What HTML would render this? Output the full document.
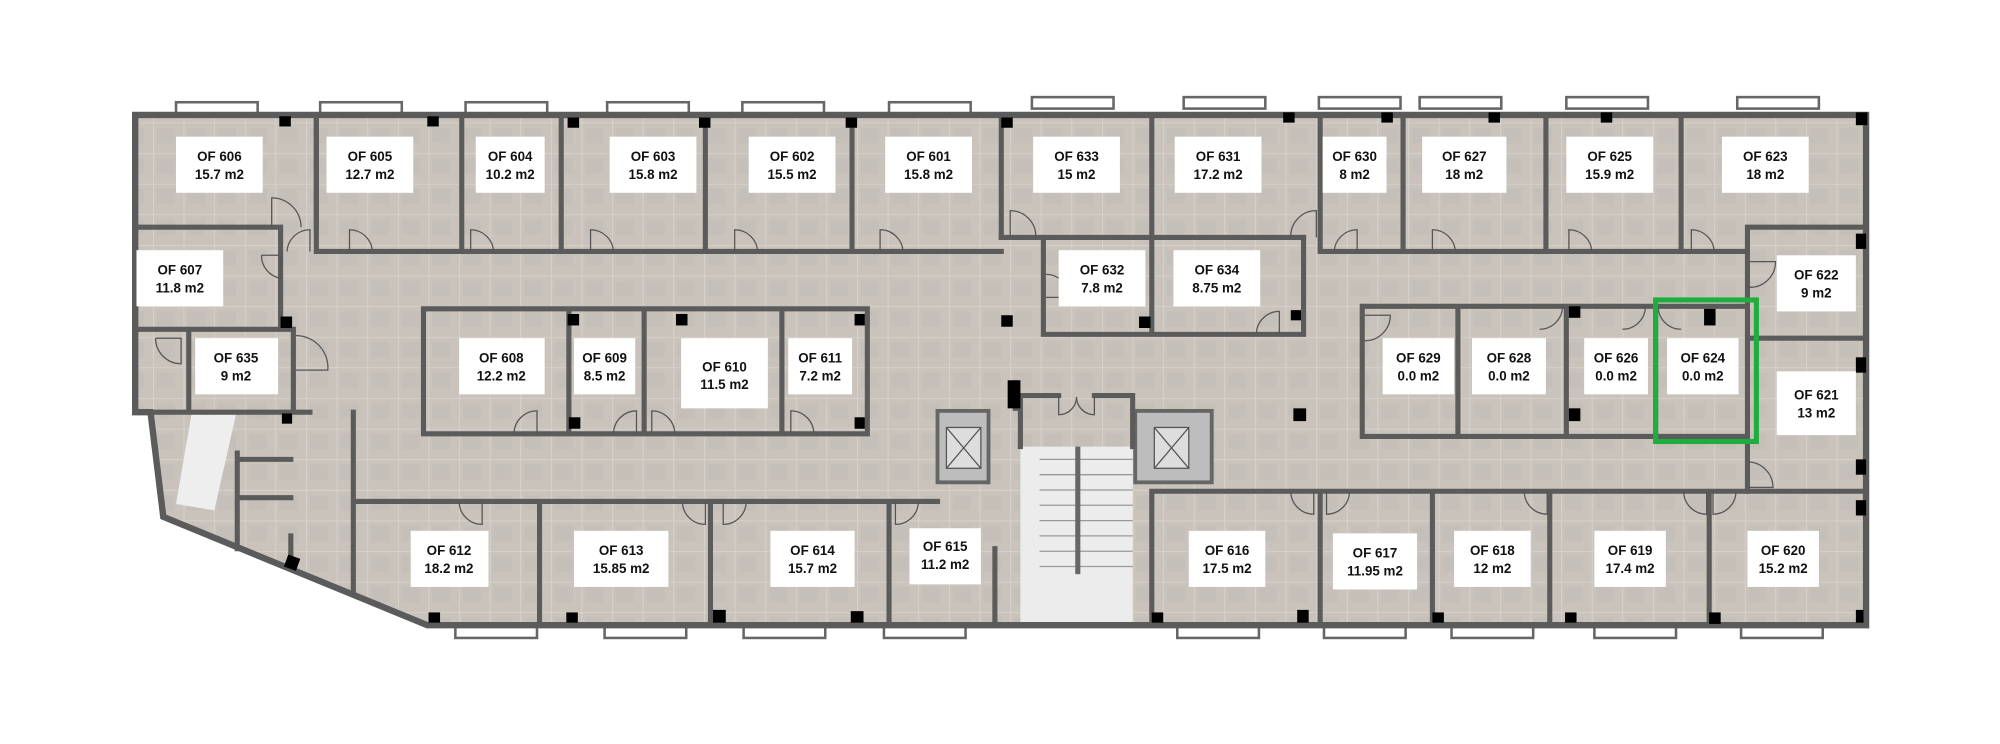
<!DOCTYPE html>
<html><head><meta charset="utf-8"><style>
html,body{margin:0;padding:0;background:#fff;width:2000px;height:744px;overflow:hidden}
svg{display:block}
text{font-family:"Liberation Sans",sans-serif;font-weight:bold;font-size:10.5px;fill:#111;text-anchor:middle}
</style></head><body>
<svg width="2000" height="744" viewBox="0 0 1568 583" xmlns="http://www.w3.org/2000/svg">
<defs>
<pattern id="t" width="24" height="24" patternUnits="userSpaceOnUse">
<rect width="24" height="24" fill="#c9c3bc"/>
<rect x="3" y="4" width="14" height="12" fill="#c2bcb5" opacity=".6"/>
<path d="M0 0H24M0 0V24" stroke="#dcd8d3" stroke-width="1"/>
</pattern>
</defs>
<path d="M106 90 H1463 V490 H335 L128 405 L118 323 H106 Z" fill="url(#t)"/>
<path d="M150 325 L185 325 L168 400 L138 395 Z" fill="#eeeeee"/>
<rect x="800" y="350" width="88" height="138" fill="#ececec"/>
<g stroke="#999" stroke-width="1">
<line x1="815" y1="360" x2="888" y2="360"/><line x1="815" y1="372" x2="888" y2="372"/><line x1="815" y1="384" x2="888" y2="384"/><line x1="815" y1="396" x2="888" y2="396"/><line x1="815" y1="408" x2="888" y2="408"/><line x1="815" y1="420" x2="888" y2="420"/><line x1="815" y1="432" x2="888" y2="432"/><line x1="815" y1="444" x2="888" y2="444"/>
</g>
<rect x="843" y="350" width="4" height="100" fill="#666"/>
<rect x="735" y="322" width="40" height="56" fill="#bdbdbd" stroke="#666" stroke-width="3"/>
<rect x="742" y="335" width="27" height="32" fill="#ddd" stroke="#555"/><path d="M742 335 L769 367 M769 335 L742 367" stroke="#555"/>
<rect x="890" y="322" width="60" height="56" fill="#bdbdbd" stroke="#666" stroke-width="3"/>
<rect x="905" y="335" width="27" height="32" fill="#ddd" stroke="#555"/><path d="M905 335 L932 367 M932 335 L905 367" stroke="#555"/>
<g fill="#fff" stroke="#666" stroke-width="2">
<rect x="138" y="80" width="64" height="9"/><rect x="251" y="80" width="64" height="9"/><rect x="365" y="80" width="64" height="9"/><rect x="476" y="80" width="64" height="9"/><rect x="582" y="80" width="64" height="9"/><rect x="697" y="80" width="64" height="9"/>
<rect x="809" y="76" width="64" height="9"/><rect x="928" y="76" width="64" height="9"/><rect x="1034" y="76" width="64" height="9"/><rect x="1113" y="76" width="64" height="9"/><rect x="1228" y="76" width="64" height="9"/><rect x="1362" y="76" width="64" height="9"/>
<rect x="357" y="491" width="64" height="9"/><rect x="474" y="491" width="64" height="9"/><rect x="583" y="491" width="64" height="9"/><rect x="693" y="491" width="64" height="9"/>
<rect x="923" y="491" width="64" height="9"/><rect x="1038" y="491" width="64" height="9"/><rect x="1138" y="491" width="64" height="9"/><rect x="1250" y="491" width="64" height="9"/><rect x="1365" y="491" width="64" height="9"/>
</g>
<g stroke="#5b5b5b" stroke-width="4" fill="none" stroke-linecap="square">
<path d="M106 90 H1463 V490 H335 L128 405 L118 323 H106 Z" stroke-width="5"/>
<path d="M220 178 H106 M248 90 V178 M220 178 V258 M106 258 H230 M148 260 V323 M230 260 V323 M106 323 H243"/>
<path d="M248 197 H785 M248 90 V197 M362 90 V197 M440 90 V197 M553 90 V197 M668 90 V197 M785 90 V186"/>
<path d="M785 186 H1022 M903 90 V186 M1035 90 V197 H1370 M1100 90 V197 M1212 90 V197 M1318 90 V197 M1370 178 V385 M1370 178 H1463 M1370 265 H1463"/>
<path d="M818 186 V262 H1022 V186 M903 186 V262"/>
<path d="M332 242 H680 V340 H332 Z M446 242 V340 M505 242 V340 M613 242 V340"/>
<path d="M1068 240 H1370 M1068 240 V342 H1370 M1143 240 V342 M1228 240 V342 M1298 240 V342"/>
<path d="M277 323 V465 M277 393 H735 M423 393 V488 M557 393 V488 M697 393 V488 M780 430 V488"/>
<path d="M903 385 H1463 M903 385 V488 M1035 385 V488 M1123 385 V488 M1215 385 V488 M1340 385 V488"/>
<path d="M186 355 V430 M186 360 H228 M186 390 H228 M228 420 V435"/>
<path d="M800 350 V310 H830 M858 310 H888 V350 M796 300 V320"/>
</g>
<g stroke="#555" stroke-width="1" fill="none">
<path d="M213 178 V155 A23 23 0 0 1 236 178"/><path d="M225 197 A18 18 0 0 1 243 180 V197"/><path d="M274 197 V180 A18 18 0 0 1 292 197"/><path d="M369 197 V180 A18 18 0 0 1 387 197"/><path d="M463 197 V180 A18 18 0 0 1 481 197"/><path d="M576 197 V180 A18 18 0 0 1 594 197"/><path d="M690 197 V180 A18 18 0 0 1 708 197"/><path d="M792 186 V165 A20 20 0 0 1 812 186"/><path d="M1012 186 A20 20 0 0 1 1032 165 V186"/>
<path d="M1046 197 A18 18 0 0 1 1064 180 V197"/><path d="M1123 197 V180 A18 18 0 0 1 1141 197"/><path d="M1230 197 V180 A18 18 0 0 1 1248 197"/><path d="M1326 197 V180 A18 18 0 0 1 1344 197"/>
<path d="M820 215 A18 18 0 0 1 838 233 H820"/><path d="M985 262 A18 18 0 0 1 1003 244 V262"/>
<path d="M1370 205 H1392 A20 20 0 0 1 1370 225"/><path d="M1370 362 A20 20 0 0 1 1390 382 H1370"/>
<path d="M1070 247 H1090 A20 20 0 0 1 1070 267"/><path d="M1225 240 A18 18 0 0 1 1207 258"/><path d="M1290 240 A18 18 0 0 1 1272 258"/><path d="M1300 240 A18 18 0 0 0 1318 258"/>
<path d="M205 200 H220 V218 A18 18 0 0 1 205 200"/><path d="M232 263 A25 25 0 0 1 257 290 H232"/><path d="M122 265 H142 V285 A20 20 0 0 1 122 265"/>
<path d="M403 340 A18 18 0 0 1 421 322 V340"/><path d="M481 340 A18 18 0 0 1 499 322 V340"/><path d="M511 340 V322 A18 18 0 0 1 529 340"/><path d="M620 340 V322 A18 18 0 0 1 638 340"/>
<path d="M360 393 A18 18 0 0 0 378 411 V393"/><path d="M535 393 A18 18 0 0 0 553 411 V393"/><path d="M567 393 V411 A18 18 0 0 0 585 393"/><path d="M702 393 V411 A18 18 0 0 0 720 393"/>
<path d="M1012 385 A18 18 0 0 0 1030 403 V385"/><path d="M1040 385 V403 A18 18 0 0 0 1058 385"/><path d="M1195 385 A18 18 0 0 0 1213 403 V385"/><path d="M1320 385 A18 18 0 0 0 1338 403 V385"/><path d="M1343 385 V403 A18 18 0 0 0 1361 385"/>
<path d="M830 310 V325 A14 14 0 0 0 844 311 M858 310 V325 A14 14 0 0 1 844 311"/>
</g>
<g fill="#000">
<rect x="219" y="91" width="9" height="8"/><rect x="335" y="91" width="9" height="8"/><rect x="445" y="92" width="9" height="8"/><rect x="548" y="92" width="9" height="8"/><rect x="663" y="92" width="9" height="8"/><rect x="785" y="92" width="9" height="8"/>
<rect x="1006" y="88" width="9" height="8"/><rect x="1083" y="88" width="9" height="8"/><rect x="1167" y="88" width="9" height="8"/><rect x="1255" y="88" width="9" height="8"/><rect x="1455" y="88" width="9" height="10"/>
<rect x="220" y="248" width="9" height="9"/><rect x="893" y="248" width="9" height="9"/><rect x="1012" y="243" width="8" height="8"/><rect x="785" y="247" width="9" height="9"/><rect x="1455" y="183" width="8" height="12"/><rect x="1455" y="280" width="8" height="12"/>
<rect x="445" y="246" width="9" height="9"/><rect x="530" y="246" width="9" height="9"/><rect x="670" y="246" width="8" height="9"/><rect x="446" y="327" width="9" height="9"/><rect x="670" y="327" width="8" height="9"/>
<rect x="790" y="298" width="10" height="22"/><rect x="1014" y="320" width="10" height="10"/><rect x="1230" y="240" width="9" height="9"/><rect x="1230" y="320" width="9" height="10"/><rect x="1336" y="242" width="9" height="13"/><rect x="1455" y="360" width="8" height="12"/><rect x="1455" y="392" width="8" height="12"/>
<rect x="221" y="324" width="8" height="8"/><rect x="224" y="436" width="10" height="10" transform="rotate(20 229 441)"/>
<rect x="336" y="480" width="9" height="8"/><rect x="444" y="480" width="9" height="8"/><rect x="559" y="478" width="10" height="10"/><rect x="667" y="479" width="10" height="9"/>
<rect x="903" y="480" width="9" height="8"/><rect x="1017" y="478" width="9" height="10"/><rect x="1123" y="480" width="9" height="8"/><rect x="1227" y="480" width="9" height="8"/><rect x="1340" y="480" width="9" height="9"/><rect x="1455" y="478" width="6" height="10"/>
</g>
<rect x="1298" y="235" width="79" height="111" fill="none" stroke="#1fae3e" stroke-width="4"/>
<g fill="#fff">
<rect x="138" y="107" width="68" height="44"/><rect x="256" y="107" width="68" height="44"/><rect x="373" y="107" width="54" height="44"/><rect x="478" y="107" width="68" height="44"/><rect x="587" y="107" width="68" height="44"/><rect x="694" y="107" width="68" height="44"/>
<rect x="810" y="107" width="68" height="44"/><rect x="921" y="107" width="68" height="44"/><rect x="1037" y="107" width="50" height="44"/><rect x="1115" y="107" width="66" height="44"/><rect x="1228" y="107" width="68" height="44"/><rect x="1350" y="107" width="68" height="44"/>
<rect x="107" y="196" width="68" height="44"/><rect x="830" y="196" width="68" height="44"/><rect x="920" y="196" width="68" height="44"/><rect x="1393" y="200" width="62" height="44"/>
<rect x="153" y="265" width="65" height="44"/><rect x="360" y="265" width="67" height="44"/><rect x="450" y="265" width="48" height="44"/><rect x="534" y="265" width="68" height="55"/><rect x="618" y="265" width="50" height="44"/>
<rect x="1084" y="265" width="56" height="44"/><rect x="1154" y="265" width="58" height="44"/><rect x="1242" y="265" width="50" height="44"/><rect x="1307" y="265" width="56" height="44"/><rect x="1393" y="291" width="62" height="50"/>
<rect x="322" y="416" width="61" height="44"/><rect x="450" y="416" width="74" height="44"/><rect x="604" y="416" width="66" height="44"/><rect x="713" y="414" width="56" height="44"/>
<rect x="932" y="416" width="60" height="44"/><rect x="1045" y="418" width="66" height="44"/><rect x="1140" y="416" width="60" height="44"/><rect x="1250" y="416" width="56" height="44"/><rect x="1370" y="416" width="56" height="44"/>
</g>
<g>
<text x="172" y="126">OF 606</text><text x="172" y="140">15.7 m2</text>
<text x="290" y="126">OF 605</text><text x="290" y="140">12.7 m2</text>
<text x="400" y="126">OF 604</text><text x="400" y="140">10.2 m2</text>
<text x="512" y="126">OF 603</text><text x="512" y="140">15.8 m2</text>
<text x="621" y="126">OF 602</text><text x="621" y="140">15.5 m2</text>
<text x="728" y="126">OF 601</text><text x="728" y="140">15.8 m2</text>
<text x="844" y="126">OF 633</text><text x="844" y="140">15 m2</text>
<text x="955" y="126">OF 631</text><text x="955" y="140">17.2 m2</text>
<text x="1062" y="126">OF 630</text><text x="1062" y="140">8 m2</text>
<text x="1148" y="126">OF 627</text><text x="1148" y="140">18 m2</text>
<text x="1262" y="126">OF 625</text><text x="1262" y="140">15.9 m2</text>
<text x="1384" y="126">OF 623</text><text x="1384" y="140">18 m2</text>
<text x="141" y="215">OF 607</text><text x="141" y="229">11.8 m2</text>
<text x="864" y="215">OF 632</text><text x="864" y="229">7.8 m2</text>
<text x="954" y="215">OF 634</text><text x="954" y="229">8.75 m2</text>
<text x="1424" y="219">OF 622</text><text x="1424" y="233">9 m2</text>
<text x="185" y="284">OF 635</text><text x="185" y="298">9 m2</text>
<text x="393" y="284">OF 608</text><text x="393" y="298">12.2 m2</text>
<text x="474" y="284">OF 609</text><text x="474" y="298">8.5 m2</text>
<text x="568" y="291">OF 610</text><text x="568" y="305">11.5 m2</text>
<text x="643" y="284">OF 611</text><text x="643" y="298">7.2 m2</text>
<text x="1112" y="284">OF 629</text><text x="1112" y="298">0.0 m2</text>
<text x="1183" y="284">OF 628</text><text x="1183" y="298">0.0 m2</text>
<text x="1267" y="284">OF 626</text><text x="1267" y="298">0.0 m2</text>
<text x="1335" y="284">OF 624</text><text x="1335" y="298">0.0 m2</text>
<text x="1424" y="313">OF 621</text><text x="1424" y="327">13 m2</text>
<text x="352" y="435">OF 612</text><text x="352" y="449">18.2 m2</text>
<text x="487" y="435">OF 613</text><text x="487" y="449">15.85 m2</text>
<text x="637" y="435">OF 614</text><text x="637" y="449">15.7 m2</text>
<text x="741" y="432">OF 615</text><text x="741" y="446">11.2 m2</text>
<text x="962" y="435">OF 616</text><text x="962" y="449">17.5 m2</text>
<text x="1078" y="437">OF 617</text><text x="1078" y="451">11.95 m2</text>
<text x="1170" y="435">OF 618</text><text x="1170" y="449">12 m2</text>
<text x="1278" y="435">OF 619</text><text x="1278" y="449">17.4 m2</text>
<text x="1398" y="435">OF 620</text><text x="1398" y="449">15.2 m2</text>
</g>
</svg>
</body></html>
